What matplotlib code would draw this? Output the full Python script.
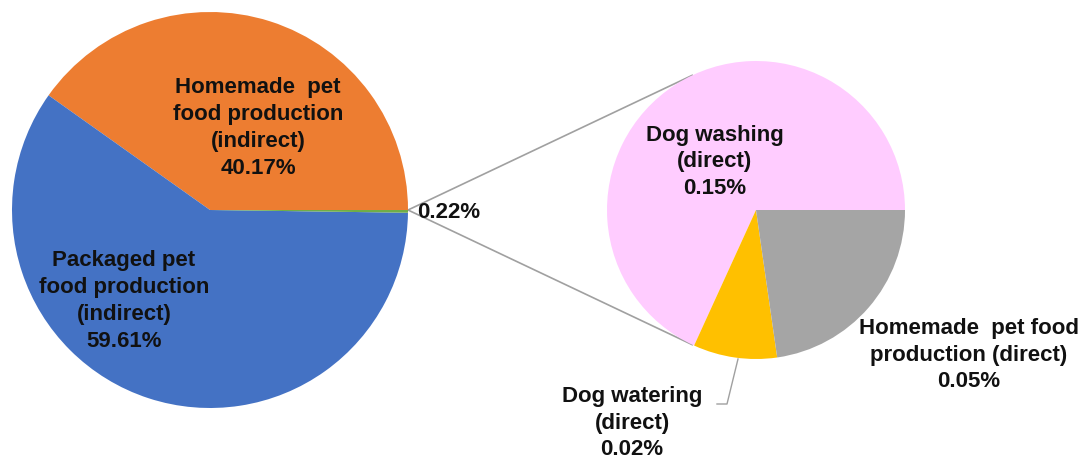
import matplotlib.pyplot as plt
import numpy as np

# main pie
main_labels = ["Homemade  pet\nfood production\n(indirect)\n40.17%",
               "Packaged pet\nfood production\n(indirect)\n59.61%",
               "0.22%"]
main_values = [40.17, 59.61, 0.22]
main_colors = ["#ED7D31", "#4472C4", "#70AD47"]

# breakdown of the small slice
sub_labels = ["Dog washing\n(direct)\n0.15%",
              "Dog watering\n(direct)\n0.02%",
              "Homemade  pet food\nproduction (direct)\n0.05%"]
sub_values = [0.15, 0.02, 0.05]
sub_colors = ["#FFCCFF", "#FFC000", "#A5A5A5"]

W, H = 1083, 462
fig = plt.figure(figsize=(W / 100, H / 100), dpi=100)
ax = fig.add_axes([0, 0, 1, 1])

c1, r1 = (210, H - 210), 198
c2, r2 = (756, H - 210), 149

ax.pie(main_values, colors=main_colors, startangle=0, counterclock=True,
       center=c1, radius=r1, wedgeprops=dict(linewidth=0))
ax.pie(sub_values, colors=sub_colors, startangle=0, counterclock=True,
       center=c2, radius=r2, wedgeprops=dict(linewidth=0))

ax.set_xlim(0, W)
ax.set_ylim(0, H)
ax.set_aspect('equal')
ax.set_axis_off()

# connector lines: from the edge of the small slice, tangent to the second pie
p0 = np.array([c1[0] + r1, c1[1]])
d = c2[0] - p0[0]
theta = np.arccos(r2 / d)
for sgn in (1, -1):
    ang = np.pi - sgn * theta
    tx = c2[0] + r2 * np.cos(ang)
    ty = c2[1] + r2 * np.sin(ang)
    ax.plot([p0[0], tx], [p0[1], ty], color="#A0A0A0", lw=1.2, zorder=0.5)

font = dict(family="Liberation Sans", weight="bold", fontsize=16,
            color="#111111", linespacing=1.37, ha="center", va="center")

ax.text(258, H - 128, main_labels[0], **font)
ax.text(124, H - 301, main_labels[1], **font)
ax.text(417, H - 212, main_labels[2], **{**font, "ha": "left"})

ax.text(715, H - 162, sub_labels[0], **font)
ax.text(632, H - 423, sub_labels[1], **{**font, "linespacing": 1.32})
ax.text(969, H - 355, sub_labels[2], **font)

# leader line for the watering label
ax.plot([738, 727, 717], [H - 359, H - 404, H - 404], color="#A0A0A0", lw=1)

plt.savefig("out.png", dpi=100)
